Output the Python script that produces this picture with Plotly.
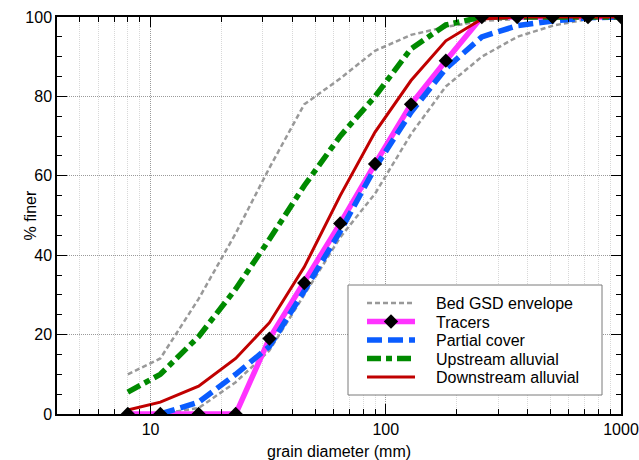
import plotly.graph_objects as go
import math

# ---- data ----
diam = [8, 11, 16, 23, 32, 45, 64, 90, 128, 180, 256, 362, 512, 724, 1000]
env_upper = [10, 14, 29, 45.5, 62, 78, 84.5, 91.5, 95.5, 97.5, 99, 99.5, 100, 100, 100]
env_lower = [None, 0, 1.5, 8, 16, 30, 44.5, 55.5, 70.5, 82.5, 90, 95, 97.8, 99.5, 100]
tracers = [0, 0, 0, 0, 19, 33, 48, 63, 78, 89, 100, 100, 100, 100, 100]
partial_cover = [None, 0, 3, 10, 17, 31, 46, 62, 76, 87, 95, 97.8, 99, 99.8, 100]
upstream = [5.5, 10, 19.5, 31.5, 44, 57.5, 70, 80, 92, 98, 100, 100, 100, 100, 100]
downstream = [1, 3, 7, 14, 23, 37, 55, 71, 84, 94, 99.5, 100, 100, 100, 100]

series_names = ["Bed GSD envelope", "Tracers", "Partial cover",
                "Upstream alluvial", "Downstream alluvial"]

x_major = [10, 100, 1000]
x_major_text = ["10", "100", "1000"]
x_minor = [5, 6, 7, 8, 9, 20, 30, 40, 50, 60, 70, 80, 90,
           200, 300, 400, 500, 600, 700, 800, 900]
y_major = [0, 20, 40, 60, 80, 100]

FONT = "Liberation Sans, Arial, Helvetica, sans-serif"
FS = 16
GRAY = "#999999"
MAGENTA = "#ff33ff"
BLUE = "#0a5cff"
GREEN = "#008a00"
RED = "#c00000"

styles = [
    dict(color=GRAY, width=2.5, dash="5px,3px"),
    dict(color=MAGENTA, width=5.5, dash="solid"),
    dict(color=BLUE, width=5.5, dash="15px,6px"),
    dict(color=GREEN, width=5.5, dash="14px,5px,6px,5px"),
    dict(color=RED, width=3, dash="solid"),
]
DIAMOND = dict(symbol="diamond", size=11, color="black", line=dict(width=0))

fig = go.Figure()
fig.add_trace(go.Scatter(x=diam, y=env_upper, mode="lines", name=series_names[0],
                         showlegend=False, line=styles[0]))
fig.add_trace(go.Scatter(x=diam, y=env_lower, mode="lines", name=series_names[0],
                         showlegend=False, line=styles[0]))
fig.add_trace(go.Scatter(x=diam, y=tracers, mode="lines", name=series_names[1],
                         showlegend=False, line=styles[1]))
fig.add_trace(go.Scatter(x=diam, y=partial_cover, mode="lines", name=series_names[2],
                         showlegend=False, line=styles[2]))
fig.add_trace(go.Scatter(x=diam, y=upstream, mode="lines", name=series_names[3],
                         showlegend=False, line=styles[3]))
fig.add_trace(go.Scatter(x=diam, y=downstream, mode="lines", name=series_names[4],
                         showlegend=False, line=styles[4]))
fig.add_trace(go.Scatter(x=diam, y=tracers, mode="markers", name=series_names[1],
                         showlegend=False, marker=DIAMOND, cliponaxis=True))

# ---- legend box (drawn in pixel geometry converted to paper fractions) ----
L, R, T, B = 57, 621, 17, 414
W, H = R - L, B - T
px = lambda v: (v - L) / W
py = lambda v: (B - v) / H

shapes = [dict(type="rect", xref="paper", yref="paper",
               x0=px(348), x1=px(602), y0=py(395), y1=py(285),
               fillcolor="white", line=dict(color="#7a7a7a", width=1), layer="above")]
annotations = []
row_y = [303, 321.5, 340, 358.5, 377]
for i, name in enumerate(series_names):
    st = styles[i]
    shapes.append(dict(type="line", xref="paper", yref="paper",
                       x0=px(367), x1=px(415), y0=py(row_y[i]), y1=py(row_y[i]),
                       line=dict(color=st["color"], width=st["width"], dash=st["dash"]),
                       layer="above"))
    annotations.append(dict(text=name, xref="paper", yref="paper",
                            x=px(434), y=py(row_y[i] + 0.5), xanchor="left",
                            yanchor="middle", showarrow=False,
                            font=dict(family=FONT, size=FS)))
# diamond marker in legend
cx, cy, r = 391, row_y[1], 7.2
shapes.append(dict(type="path", xref="paper", yref="paper",
                   path=("M %f %f L %f %f L %f %f L %f %f Z" % (
                       px(cx), py(cy - r), px(cx + r), py(cy),
                       px(cx), py(cy + r), px(cx - r), py(cy))),
                   fillcolor="black", line=dict(width=0), layer="above"))

annotations += [
    dict(text="grain diameter (mm)", xref="paper", yref="paper",
         x=0.5, y=py(451.5), xanchor="center", yanchor="middle",
         showarrow=False, font=dict(family=FONT, size=FS)),
    dict(text="% finer", xref="paper", yref="paper",
         x=px(30), y=0.5, xanchor="center", yanchor="middle", textangle=-90,
         showarrow=False, font=dict(family=FONT, size=FS)),
]

fig.update_layout(
    width=639, height=460,
    margin=dict(l=L, r=639 - R, t=T, b=460 - B),
    paper_bgcolor="white", plot_bgcolor="white",
    font=dict(family=FONT, size=FS, color="black"),
    showlegend=False,
    shapes=shapes, annotations=annotations,
    xaxis=dict(type="log", range=[math.log10(4), 3], automargin=False,
               ticklabeloverflow="allow",
               tickmode="array", tickvals=x_major, ticktext=x_major_text,
               ticks="inside", ticklen=10, tickwidth=1, tickcolor="black",
               showline=True, linecolor="black", linewidth=1.5, mirror="allticks",
               showgrid=True, gridcolor="#9a9a9a", gridwidth=1, griddash="1px,1px",
               zeroline=False,
               tickfont=dict(family=FONT, size=FS),
               minor=dict(tickmode="array", tickvals=x_minor, ticks="inside",
                          ticklen=5, tickwidth=1, tickcolor="black",
                          showgrid=True, gridcolor="#d8d8d8", gridwidth=1,
                          griddash="1px,1px")),
    yaxis=dict(range=[0, 100], tickmode="array", tickvals=y_major, automargin=False,
               ticklabeloverflow="allow",
               ticks="inside", ticklen=10, tickwidth=1, tickcolor="black",
               showline=True, linecolor="black", linewidth=1.5, mirror="allticks",
               showgrid=True, gridcolor="#9a9a9a", gridwidth=1, griddash="1px,1px",
               zeroline=False,
               tickfont=dict(family=FONT, size=FS),
               minor=dict(dtick=5, ticks="inside", ticklen=5, tickwidth=1,
                          tickcolor="black", showgrid=False)),
)

fig.write_html("out.html")
